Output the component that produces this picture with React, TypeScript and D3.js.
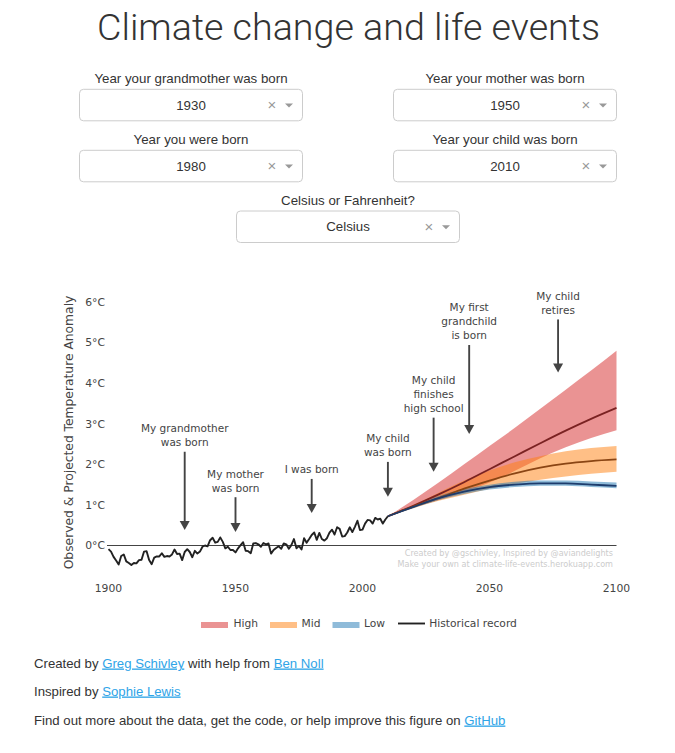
import React from 'react';
import * as d3 from 'd3';

// ---------- data ----------
const histYears = d3.range(1900, 2011);
const histTemps = [
  -0.09, -0.15, -0.28, -0.37, -0.47, -0.26, -0.22, -0.39, -0.43, -0.48,
  -0.43, -0.44, -0.36, -0.35, -0.15, -0.14, -0.36, -0.46, -0.30, -0.27,
  -0.27, -0.19, -0.28, -0.26, -0.27, -0.22, -0.10, -0.21, -0.20, -0.36,
  -0.16, -0.09, -0.16, -0.29, -0.13, -0.20, -0.15, -0.03, -0.00, -0.02,
  0.13, 0.19, 0.07, 0.09, 0.20, 0.09, -0.07, -0.03, -0.11, -0.11,
  -0.17, -0.07, 0.01, 0.08, -0.13, -0.14, -0.19, 0.05, 0.06, 0.03,
  -0.03, 0.06, 0.03, 0.05, -0.20, -0.11, -0.06, -0.02, -0.08, 0.05,
  0.03, -0.08, 0.01, 0.16, -0.07, -0.01, -0.10, 0.18, 0.07, 0.16,
  0.26, 0.32, 0.14, 0.31, 0.16, 0.12, 0.18, 0.32, 0.39, 0.27,
  0.45, 0.41, 0.22, 0.23, 0.32, 0.45, 0.33, 0.46, 0.61, 0.38,
  0.39, 0.54, 0.63, 0.62, 0.54, 0.68, 0.64, 0.66, 0.54, 0.64, 0.72,
];

const projYears = [2010, 2020, 2030, 2040, 2050, 2060, 2070, 2080, 2090, 2100];
const highLower = [0.72, 0.93, 1.12, 1.32, 1.55, 1.84, 2.15, 2.42, 2.65, 2.84];
const highCenter = [0.72, 0.98, 1.26, 1.56, 1.88, 2.2, 2.52, 2.83, 3.12, 3.39];
const highUpper = [0.72, 1.12, 1.55, 2.0, 2.45, 2.9, 3.37, 3.84, 4.31, 4.8];
const midLower = [0.72, 0.92, 1.1, 1.25, 1.4, 1.52, 1.62, 1.7, 1.77, 1.82];
const midCenter = [0.72, 0.96, 1.17, 1.4, 1.6, 1.78, 1.92, 2.02, 2.08, 2.12];
const midUpper = [0.72, 1.0, 1.3, 1.6, 1.85, 2.05, 2.2, 2.32, 2.4, 2.45];
const lowLower = [0.72, 0.92, 1.12, 1.27, 1.38, 1.44, 1.47, 1.47, 1.44, 1.41];
const lowCenter = [0.72, 0.95, 1.17, 1.33, 1.44, 1.5, 1.53, 1.53, 1.5, 1.47];
const lowUpper = [0.72, 0.97, 1.22, 1.39, 1.5, 1.57, 1.6, 1.6, 1.58, 1.55];

const eventLabels = [
  ['My grandmother', 'was born'],
  ['My mother', 'was born'],
  ['I was born'],
  ['My child', 'was born'],
  ['My child', 'finishes', 'high school'],
  ['My first', 'grandchild', 'is born'],
  ['My child', 'retires'],
];
const eventYears = [1930, 1950, 1980, 2010, 2028, 2042, 2077];
const eventTipTemps = [0.38, 0.33, 0.8, 1.2, 1.82, 2.75, 4.26];
const eventTailTemps = [2.31, 1.19, 1.64, 2.06, 3.15, 4.94, 5.57];

const xTicks = [1900, 1950, 2000, 2050, 2100];
const yTicks = [0, 1, 2, 3, 4, 5, 6];

const scenarioNames = ['High', 'Mid', 'Low'];
const scenarioFill = ['#d62728', '#ff7f0e', '#1f77b4'];
const scenarioLine = ['#7a2222', '#8a4514', '#1d3c6c'];

const dropdownLabels = [
  'Year your grandmother was born',
  'Year your mother was born',
  'Year you were born',
  'Year your child was born',
  'Celsius or Fahrenheit?',
];
const dropdownValues = ['1930', '1950', '1980', '2010', 'Celsius'];

// ---------- layout ----------
const W = 675;
const H = 753;
const x = d3.scaleLinear().domain([1900, 2100]).range([108.5, 616.5]);
const y = d3.scaleLinear().domain([0, 6]).range([545.5, 302]);

const tickFont = 'DejaVu Sans, Verdana, sans-serif';
const uiFont = '"Liberation Sans", Arial, Helvetica, sans-serif';

function Dropdown({ cx, top, label, value }: { cx: number; top: number; label: string; value: string }) {
  const w = 223;
  const h = 31.5;
  const left = cx - w / 2;
  return (
    <g>
      <text x={cx} y={top - 6.5} textAnchor="middle" fontFamily={uiFont} fontSize={13.3} fill="#333">
        {label}
      </text>
      <rect x={left} y={top} width={w} height={h} rx={4} fill="#fff" stroke="#ccc" strokeWidth={1} />
      <text x={cx} y={top + h / 2 + 4.7} textAnchor="middle" fontFamily={uiFont} fontSize={13.3} fill="#333">
        {value}
      </text>
      <text x={left + 192.5} y={top + h / 2 + 5} textAnchor="middle" fontFamily={uiFont} fontSize={15} fill="#999">
        ×
      </text>
      <path
        d={`M${left + 205.5},${top + h / 2 - 1.5} L${left + 213.5},${top + h / 2 - 1.5} L${left + 209.5},${top + h / 2 + 2.5} Z`}
        fill="#999"
      />
    </g>
  );
}

export default function App() {
  const proj = projYears.map((yr, i) => ({ yr, i }));
  const area = (lo: number[], hi: number[]) =>
    d3
      .area<{ yr: number; i: number }>()
      .x((d) => x(d.yr))
      .y0((d) => y(lo[d.i]))
      .y1((d) => y(hi[d.i]))
      .curve(d3.curveMonotoneX)(proj) as string;
  const line = (vals: number[]) =>
    d3
      .line<{ yr: number; i: number }>()
      .x((d) => x(d.yr))
      .y((d) => y(vals[d.i]))
      .curve(d3.curveMonotoneX)(proj) as string;
  const histPath = d3
    .line<number>()
    .x((d, i) => x(histYears[i]))
    .y((d) => y(d))(histTemps) as string;

  const bands = [
    [highLower, highUpper, highCenter],
    [midLower, midUpper, midCenter],
    [lowLower, lowUpper, lowCenter],
  ];

  const legendX = [201, 270, 332.5];
  const legendTextX = [233.5, 301.5, 364];

  return (
    <div style={{ position: 'absolute', left: 0, top: 0, width: W, height: H, background: '#fff' }}>
      <svg width={W} height={H} viewBox={`0 0 ${W} ${H}`} style={{ display: 'block' }}>
        <rect width={W} height={H} fill="#fff" />
        {/* Title */}
        <text
          x={348.5}
          y={39.5}
          textAnchor="middle"
          fontFamily='"Roboto", "Liberation Sans", Arial, sans-serif'
          fontWeight={300}
          fontSize={37}
          fill="#333"
          textLength={503}
          lengthAdjust="spacingAndGlyphs"
        >
          Climate change and life events
        </text>

        {/* Dropdowns */}
        <Dropdown cx={191} top={89.3} label={dropdownLabels[0]} value={dropdownValues[0]} />
        <Dropdown cx={505} top={89.3} label={dropdownLabels[1]} value={dropdownValues[1]} />
        <Dropdown cx={191} top={150.3} label={dropdownLabels[2]} value={dropdownValues[2]} />
        <Dropdown cx={505} top={150.3} label={dropdownLabels[3]} value={dropdownValues[3]} />
        <Dropdown cx={348} top={211} label={dropdownLabels[4]} value={dropdownValues[4]} />

        {/* Y axis title */}
        <text
          transform={`translate(72.5, ${432.5}) rotate(-90)`}
          textAnchor="middle"
          fontFamily={tickFont}
          fontSize={12.3}
          fill="#444"
        >
          Observed &amp; Projected Temperature Anomaly
        </text>

        {/* Y ticks */}
        {yTicks.map((t) => (
          <text key={t} x={105} y={y(t) + 3.9} textAnchor="end" fontFamily={tickFont} fontSize={10.8} fill="#444">
            {`${t}°C`}
          </text>
        ))}
        {/* X ticks */}
        {xTicks.map((t) => (
          <text key={t} x={x(t)} y={592.2} textAnchor="middle" fontFamily={tickFont} fontSize={10.8} fill="#444">
            {t}
          </text>
        ))}

        {/* zero line */}
        <line x1={x(1900) - 1.5} x2={x(2100)} y1={y(0)} y2={y(0)} stroke="#444" strokeWidth={1.2} />

        {/* projection bands */}
        {bands.map((b, k) => (
          <path key={'band' + k} d={area(b[0], b[1])} fill={scenarioFill[k]} fillOpacity={0.5} stroke="none" />
        ))}
        {bands.map((b, k) => (
          <path key={'line' + k} d={line(b[2])} fill="none" stroke={scenarioLine[k]} strokeWidth={1.8} />
        ))}

        {/* historical */}
        <path d={histPath} fill="none" stroke="#222" strokeWidth={1.9} strokeLinejoin="round" />

        {/* watermark */}
        <text x={613} y={556} textAnchor="end" fontFamily={tickFont} fontSize={8.1} fill="#ccc">
          Created by @gschivley, Inspired by @aviandelights
        </text>
        <text x={613} y={567} textAnchor="end" fontFamily={tickFont} fontSize={8.1} fill="#ccc">
          Make your own at climate-life-events.herokuapp.com
        </text>

        {/* annotations */}
        {eventYears.map((yr, i) => {
          const ax = x(yr);
          const tip = y(eventTipTemps[i]);
          const tail = y(eventTailTemps[i]);
          const lines = eventLabels[i];
          return (
            <g key={'ev' + i}>
              <line x1={ax} x2={ax} y1={tail} y2={tip - 6} stroke="#444" strokeWidth={1.9} />
              <path d={`M${ax - 5},${tip - 9} L${ax + 5},${tip - 9} L${ax},${tip} Z`} fill="#444" />
              {lines.map((ln, j) => (
                <text
                  key={j}
                  x={ax}
                  y={tail - 9.5 - (lines.length - 1 - j) * 14 + 3.8}
                  textAnchor="middle"
                  fontFamily={tickFont}
                  fontSize={10.5}
                  fill="#444"
                >
                  {ln}
                </text>
              ))}
            </g>
          );
        })}

        {/* legend */}
        {scenarioNames.map((n, k) => (
          <g key={'lg' + k}>
            <rect x={legendX[k]} y={622} width={27} height={6} fill={scenarioFill[k]} fillOpacity={0.5} />
            <text x={legendTextX[k]} y={627} fontFamily={tickFont} fontSize={10.7} fill="#444">
              {n}
            </text>
          </g>
        ))}
        <line x1={398} x2={425} y1={623.5} y2={623.5} stroke="#222" strokeWidth={1.9} />
        <text x={429.3} y={627} fontFamily={tickFont} fontSize={10.7} fill="#444">
          Historical record
        </text>

        {/* footer */}
        <g fontFamily={uiFont} fontSize={13.2} fill="#333">
          <text x={34} y={667.5}>
            Created by <tspan fill="#2fa4e7" textDecoration="underline">Greg Schivley</tspan> with help from{' '}
            <tspan fill="#2fa4e7" textDecoration="underline">Ben Noll</tspan>
          </text>
          <text x={34} y={695.5}>
            Inspired by <tspan fill="#2fa4e7" textDecoration="underline">Sophie Lewis</tspan>
          </text>
          <text x={34} y={724.5}>
            Find out more about the data, get the code, or help improve this figure on{' '}
            <tspan fill="#2fa4e7" textDecoration="underline">GitHub</tspan>
          </text>
        </g>
      </svg>
    </div>
  );
}
